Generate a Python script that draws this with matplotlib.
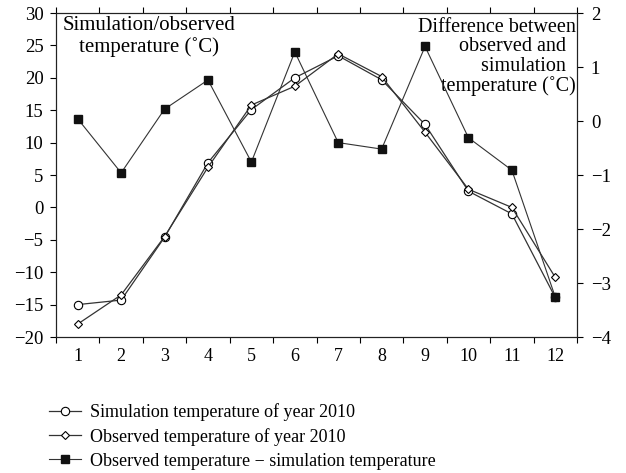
import numpy as np
import matplotlib
matplotlib.use("Agg")
import matplotlib.pyplot as plt

plt.rcParams['font.family'] = ['Liberation Serif', 'DejaVu Serif']
plt.rcParams['font.size'] = 11

# monthly values
months = np.arange(1, 13)
sim_temp = [-15.0, -14.3, -4.6, 6.9, 15.1, 20.0, 23.4, 19.7, 12.8, 2.5, -1.0, -13.9]
obs_temp = [-18.0, -13.5, -4.5, 6.2, 15.8, 18.7, 23.7, 20.2, 11.6, 2.8, 0.0, -10.8]
diff_temp = [0.04, -0.96, 0.22, 0.76, -0.76, 1.28, -0.40, -0.52, 1.38, -0.31, -0.91, -3.26]

lbl_sim = "Simulation temperature of year 2010"
lbl_obs = "Observed temperature of year 2010"
lbl_diff = "Observed temperature \u2212 simulation temperature"

fig = plt.figure(figsize=(6.26, 4.73), dpi=100)
ax = fig.add_axes([0.0895, 0.2875, 0.8322, 0.685])
ax2 = ax.twinx()

lc = '#333333'
h1, = ax.plot(months, sim_temp, color=lc, lw=0.9, marker='o', ms=6,
              mfc='white', mec='black', mew=0.8, label=lbl_sim, zorder=3)
h2, = ax.plot(months, obs_temp, color=lc, lw=0.9, marker='D', ms=4,
              mfc='white', mec='black', mew=0.8, label=lbl_obs, zorder=3)
h3, = ax2.plot(months, diff_temp, color=lc, lw=0.8, marker='s', ms=6,
               mfc='#111111', mec='#111111', label=lbl_diff)

ax.set_xlim(0.5, 12.5)
ax.set_ylim(-20, 30)
ax.set_yticks(np.arange(-20, 31, 5))
ax.set_yticklabels([str(v).replace('-', '\u2212') for v in range(-20, 31, 5)])
ax2.set_ylim(-4, 2)
ax2.set_yticks(np.arange(-4, 3, 1))
ax2.set_yticklabels([str(v).replace('-', '\u2212') for v in range(-4, 3)])

ax.set_xticks(np.arange(0.5, 13, 1))
ax.set_xticklabels([])
ax.set_xticks(months, minor=True)
ax.set_xticklabels([str(m) for m in months], minor=True)
ax.tick_params(axis='x', which='major', direction='out', length=4, top=True, width=0.8)
ax.tick_params(axis='x', which='minor', length=0, pad=8, labelsize=13)
ax.tick_params(axis='y', direction='out', length=4, width=0.8, labelsize=13.5, pad=5)
ax2.tick_params(axis='y', direction='out', length=4, width=0.8, labelsize=13.5, pad=6)
ax2.tick_params(axis='x', which='both', top=False)

for a in (ax, ax2):
    for s in a.spines.values():
        s.set_linewidth(0.8)
        s.set_color('#222222')

ax.text(0.178, 0.99, "Simulation/observed\ntemperature (\u02daC)", transform=ax.transAxes,
        ha='center', va='top', fontsize=15, linespacing=1.15, zorder=5)
ax.text(0.998, 0.985, "Difference between\nobserved and  \nsimulation  \ntemperature (\u02daC)",
        transform=ax.transAxes, ha='right', va='top', fontsize=14.5,
        linespacing=1.03, zorder=5)

fig.legend(handles=[h1, h2, h3], loc='upper left', bbox_to_anchor=(0.066, 0.163),
           frameon=False, fontsize=13, handlelength=1.8, handletextpad=0.5,
           labelspacing=0.38, borderaxespad=0)

fig.savefig("out.png", dpi=100)
